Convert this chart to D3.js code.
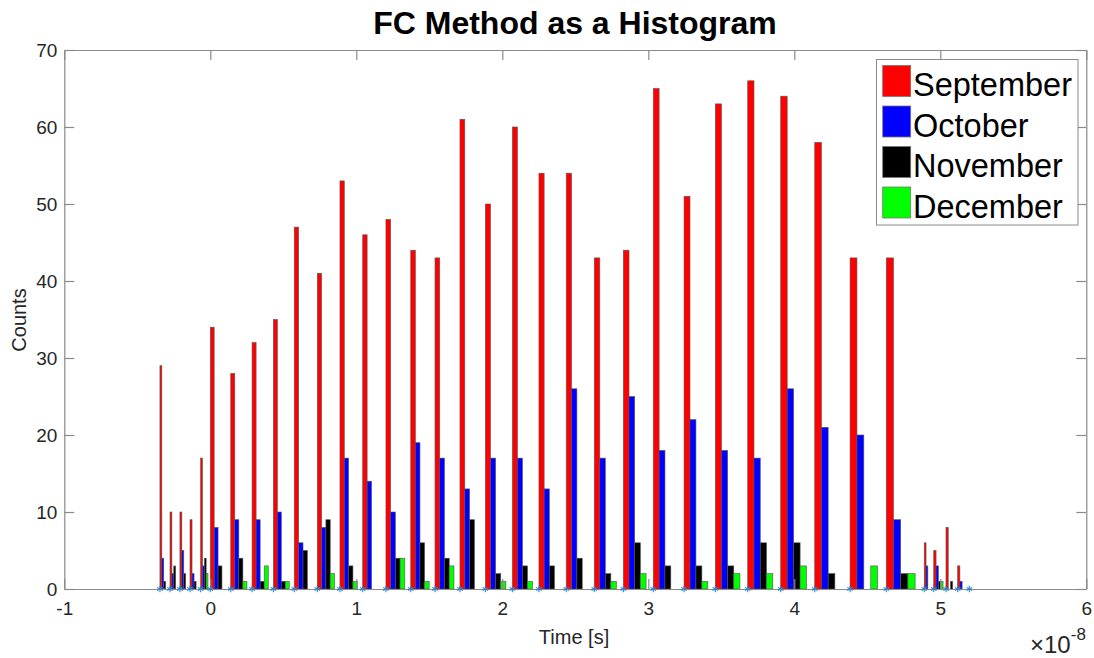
<!DOCTYPE html>
<html>
<head>
<meta charset="utf-8">
<script src="https://cdn.jsdelivr.net/npm/d3@7"></script>
<style>
  html, body { margin: 0; padding: 0; background: #fff; }
  svg { display: block; font-family: "Liberation Sans", Arial, Helvetica, sans-serif; }
</style>
</head>
<body>
<svg id="chart" width="1094" height="658"></svg>
<script>
// Bin start positions (time, in units of 1e-8 s), marked with asterisks
const edges = [-0.345, -0.276, -0.208, -0.139, -0.066, 0, 0.140, 0.286, 0.432, 0.575,
  0.733, 0.888, 1.044, 1.203, 1.373, 1.539, 1.710, 1.884, 2.069, 2.251,
  2.438, 2.630, 2.829, 3.034, 3.245, 3.459, 3.681, 3.907, 4.140, 4.382,
  4.630, 4.890, 4.955, 5.039, 5.119, 5.199];

const september = [29,10,10,9,17,34,28,32,35,47,41,53,46,48,44,43,61,50,60,54,54,43,44,65,51,63,66,64,58,43,43,6,5,8,3];
const october   = [4,2,5,2,3,8,9,9,10,6,8,17,14,10,19,17,13,17,17,13,26,17,25,18,22,18,17,26,21,20,9,3,3,0,1];
const november  = [1,3,2,1,4,3,4,1,1,5,9,3,0,4,6,4,9,2,3,3,4,2,6,3,3,3,6,6,2,0,2,0,1,1,0];
const december  = [0,0,0,0,2,0,1,3,1,0,2,1,0,4,1,3,0,1,1,0,0,1,2,0,1,2,2,3,0,3,2,0,1,0,0];

const seriesNames = ["September", "October", "November", "December"];
const seriesColors = ["#ff0000", "#0000ff", "#000000", "#00ff00"];
const xTicks = [-1, 0, 1, 2, 3, 4, 5, 6];
const yTicks = [0, 10, 20, 30, 40, 50, 60, 70];

const series = [september, october, november, december];

const svg = d3.select("#chart");
const plotLeft = 64.3, plotRight = 1086.3, plotTop = 50, plotBottom = 589;

const x = d3.scaleLinear().domain([-1, 6]).range([plotLeft, plotRight]);
const y = d3.scaleLinear().domain([0, 70]).range([plotBottom, plotTop]);

const axisColor = "#8a8a8a";
const textColor = "#262626";

// Bars
const barsG = svg.append("g");
series.forEach((vals, s) => {
  vals.forEach((v, i) => {
    if (v <= 0) return;
    const x0 = x(edges[i]);
    const w = (x(edges[i + 1]) - x0) * 0.19;
    barsG.append("rect")
      .attr("x", x0 + s * w)
      .attr("y", y(v))
      .attr("width", w)
      .attr("height", y(0) - y(v))
      .attr("fill", seriesColors[s])
      .attr("stroke", "#555")
      .attr("stroke-width", 0.6);
  });
});

// Axes
function styleAxis(g) {
  g.selectAll("path.domain").attr("stroke", axisColor).attr("stroke-width", 1.2);
  g.selectAll(".tick line").attr("stroke", axisColor).attr("stroke-width", 1.2);
  g.selectAll(".tick text").attr("fill", textColor).attr("font-size", 19)
    .attr("font-family", '"Liberation Sans", Arial, Helvetica, sans-serif');
}

svg.append("g").attr("transform", `translate(0,${plotBottom})`)
  .call(d3.axisBottom(x).tickValues(xTicks).tickSizeInner(-10).tickSizeOuter(0).tickPadding(13)
    .tickFormat(d => d < 0 ? "-" + Math.abs(d) : d))
  .call(styleAxis);
svg.append("g").attr("transform", `translate(0,${plotTop})`)
  .call(d3.axisTop(x).tickValues(xTicks).tickSizeInner(-10).tickSizeOuter(0).tickFormat(""))
  .call(styleAxis);
svg.append("g").attr("transform", `translate(${plotLeft},0)`)
  .call(d3.axisLeft(y).tickValues(yTicks).tickSizeInner(-10).tickSizeOuter(0).tickPadding(7))
  .call(styleAxis);
svg.append("g").attr("transform", `translate(${plotRight},0)`)
  .call(d3.axisRight(y).tickValues(yTicks).tickSizeInner(-10).tickSizeOuter(0).tickFormat(""))
  .call(styleAxis);

// Asterisk markers at bin starts
const star = d3.symbol().type(d3.symbolAsterisk).size(28);
svg.append("g").selectAll("path").data(edges).join("path")
  .attr("d", star)
  .attr("transform", d => `translate(${x(d)},${plotBottom})`)
  .attr("fill", "none")
  .attr("stroke", "#2f86d0")
  .attr("stroke-width", 1.1);

// Title and labels
svg.append("text").attr("x", 575).attr("y", 34).attr("text-anchor", "middle")
  .attr("font-size", 32).attr("font-weight", "bold").attr("fill", "#000")
  .text("FC Method as a Histogram");
svg.append("text").attr("x", 574).attr("y", 644).attr("text-anchor", "middle")
  .attr("font-size", 20).attr("fill", textColor).text("Time [s]");
svg.append("text").attr("transform", "translate(26,320) rotate(-90)").attr("text-anchor", "middle")
  .attr("font-size", 20).attr("fill", textColor).text("Counts");

// Exponent label
const ex = svg.append("text").attr("x", 1030).attr("y", 653).attr("fill", textColor).attr("font-size", 24);
ex.append("tspan").text("\u00d710");
ex.append("tspan").attr("dy", -13).attr("font-size", 17).text("-8");

// Legend
const lg = svg.append("g");
lg.append("rect").attr("x", 876.5).attr("y", 59.5).attr("width", 201.5).attr("height", 165.5)
  .attr("fill", "#fff").attr("stroke", axisColor).attr("stroke-width", 1);
seriesNames.forEach((name, i) => {
  const cy = 81 + i * 40.5;
  lg.append("rect").attr("x", 882.7).attr("y", cy - 15.5).attr("width", 28).attr("height", 31)
    .attr("fill", seriesColors[i]).attr("stroke", "#777").attr("stroke-width", 0.8);
  lg.append("text").attr("x", 913).attr("y", cy + 15).attr("font-size", 32.5).attr("fill", "#000").text(name);
});
</script>
</body>
</html>
